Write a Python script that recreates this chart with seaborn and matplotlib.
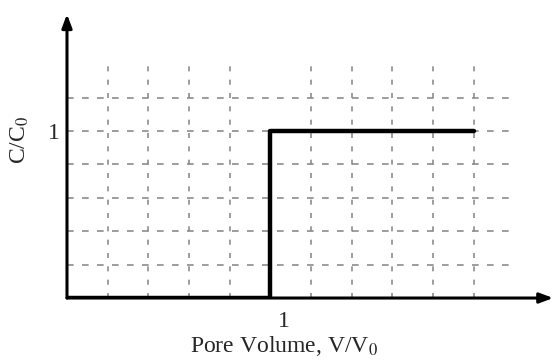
import numpy as np
import pandas as pd
import seaborn as sns
import matplotlib.pyplot as plt
import matplotlib.transforms as mtransforms

# breakthrough curve (step input)
pore_volume = [0.0, 1.0, 1.0, 2.0]
conc_ratio = [0.0, 0.0, 1.0, 1.0]

# dashed background grid
grid_x = [0.2, 0.4, 0.6, 0.8, 1.2, 1.4, 1.6, 1.8, 2.0]
grid_y = [0.2, 0.4, 0.6, 0.8, 1.0, 1.2]

x_ticks = [1]
y_ticks = [1]

df = pd.DataFrame({"V/V0": pore_volume, "C/C0": conc_ratio})

sns.set_style("white")
plt.rcParams["font.family"] = ["Liberation Serif", "DejaVu Serif"]
plt.rcParams["mathtext.fontset"] = "stix"

fig = plt.figure(figsize=(5.55, 3.63), dpi=100)
ax = fig.add_axes([0.1207, 0.179, 0.876, 0.782])

ax.vlines(grid_x, 0, 1.4, colors="#8c8c8c", linestyles=(0, (3, 5)), linewidth=1.2)
ax.hlines(grid_y, 0, 2.2, colors="#8c8c8c", linestyles=(0, (4, 5)), linewidth=1.2)

sns.lineplot(data=df, x="V/V0", y="C/C0", sort=False, estimator=None,
             color="black", linewidth=3.2, ax=ax)

ax.set_xlim(0, 2.39)
ax.set_ylim(0, 1.70)
for s in ax.spines.values():
    s.set_visible(False)

# axes with arrow heads
ax.annotate("", xy=(1, 0), xytext=(0, 0), xycoords="axes fraction",
            arrowprops=dict(arrowstyle="-|>,head_length=0.8,head_width=0.3",
                            color="black", lw=2.2, shrinkA=0, shrinkB=0))
ax.annotate("", xy=(0, 1), xytext=(0, 0), xycoords="axes fraction",
            arrowprops=dict(arrowstyle="-|>,head_length=0.8,head_width=0.3",
                            color="black", lw=2.2, shrinkA=0, shrinkB=0))

ax.set_xticks(x_ticks)
ax.set_yticks(y_ticks)
ax.set_xticklabels([str(t) for t in x_ticks], fontsize=17)
ax.set_yticklabels([str(t) for t in y_ticks], fontsize=17)
ax.tick_params(length=0, pad=5)
shift = mtransforms.ScaledTranslation(13 / 100, -6 / 100, fig.dpi_scale_trans)
for lbl in ax.get_xticklabels():
    lbl.set_transform(lbl.get_transform() + shift)

ax.set_xlabel("")
ax.set_ylabel("")
fig.text(284 / 555, 1 - 346 / 363, "Pore Volume, V/V$_0$", ha="center", va="center",
         fontsize=17)
fig.text(20 / 555, 1 - 140 / 363, "C/C$_0$", ha="center", va="center",
         rotation=90, fontsize=17)

fig.savefig("out.png", dpi=100)
